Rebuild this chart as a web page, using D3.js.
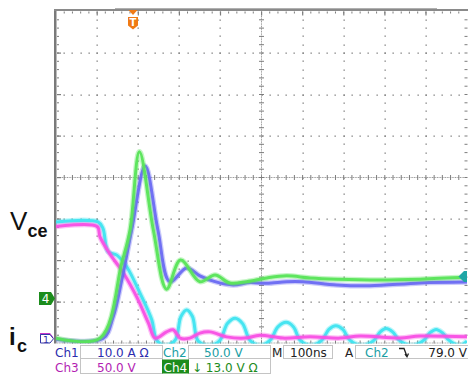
<!DOCTYPE html>
<html><head><meta charset="utf-8">
<script src="https://cdn.jsdelivr.net/npm/d3@7"></script>
<style>
body{margin:0;background:#fff}
svg{display:block}
</style>
</head><body>
<svg id="c" width="468" height="374"></svg>
<script>
// ---- DATA (time in ns, amplitude in screen divisions) ----
const ch2Vce = [[0,-1.07],[102,-1.07],[114,-1.22],[127,-1.79],[148,-1.87],[172,-2.15],[204,-2.78],[233,-3.43],[245,-3.92],
  [265,-4.05],[290,-3.92],[304,-3.35],[318,-3.19],[332,-3.35],[346,-3.94],[375,-4.05],[399,-3.92],[417,-3.52],[436,-3.39],[454,-3.52],[472,-3.92],
  [496,-4.05],[521,-3.92],[540,-3.6],[560,-3.49],[578,-3.6],[594,-3.92],[620,-4.05],[647,-3.92],[664,-3.66],[681,-3.57],[698,-3.66],[715,-3.92],
  [745,-4.05],[774,-3.92],[789,-3.72],[803,-3.64],[819,-3.72],[835,-3.92],[866,-4.05],[895,-3.92],[910,-3.74],[925,-3.66],[940,-3.74],[956,-3.92],
  [983,-4.05],[1000,-3.94]];
const ch3Vce = [[0,-1.18],[100,-1.18],[107,-1.43],[131,-1.84],[164,-2.30],[196,-2.87],[225,-3.51],[241,-3.87],[269,-3.72],[285,-3.67],
  [302,-3.87],[326,-3.87],[350,-3.75],[375,-3.72],[415,-3.84],[460,-3.87],[496,-3.80],[552,-3.87],[618,-3.84],[691,-3.87],[740,-3.82],
  [837,-3.87],[886,-3.82],[1000,-3.84]];
const ch1Ic = [[0,-3.9],[114,-3.88],[139,-3.36],[160,-2.47],[184,-1.27],[217,0.28],[248,-1.27],[277,-2.51],[318,-2.18],[350,-2.37],
  [387,-2.51],[431,-2.59],[472,-2.53],[513,-2.55],[561,-2.51],[601,-2.51],[683,-2.59],[764,-2.61],[886,-2.54],[1000,-2.52]];
const ch4Ic = [[0,-3.87],[107,-3.87],[160,-2.06],[180,-1.27],[203,0.62],[237,-1.27],[269,-2.69],[303,-1.99],[350,-2.51],[387,-2.35],
  [423,-2.54],[464,-2.51],[513,-2.42],[561,-2.37],[618,-2.42],[683,-2.45],[788,-2.47],[886,-2.45],[1000,-2.40]];

const channelNames = ["Ch1","Ch2","Ch3","Ch4"];
const channelScales = ["10.0 A \u03A9","50.0 V","50.0 V","\u2193 13.0 V \u03A9"];
const timebase = "100ns";
const triggerSource = "Ch2";
const triggerLevel = "79.0 V";
const timeDomain = [0,1000];
const divDomain = [-4,4];

// ---- DRAW ----
const svg = d3.select("#c");
const L=56, R=467, T=11.5, B=343.5;
const x = d3.scaleLinear().domain(timeDomain).range([L,R]);
const y = d3.scaleLinear().domain(divDomain).range([B,T]);
const g = svg.append("g");
const dotC = "#7d7d7d";

// graticule dots
const grid = g.append("g");
function dot(px,py,w,h,c){grid.append("rect").attr("x",px).attr("y",py).attr("width",w).attr("height",h).attr("fill",c||dotC);}
for(let i=1;i<10;i++){
  if(i===5) continue;
  for(let k=1;k<40;k++){ dot(Math.round(x(i*100))-0.5, Math.round(y(-4+k/5))-0.5, 1.3, 1.3); }
}
for(let j=-3;j<=3;j++){
  if(j===0) continue;
  for(let k=1;k<50;k++){ dot(Math.round(x(k*20))-0.5, Math.round(y(j))-0.5, 1.3, 1.3); }
}
// center lines with dense minor ticks
for(let k=1;k<250;k++){ dot(x(k*4)-0.5, y(0)-0.5, 1, 1, "#999"); }
for(let k=1;k<50;k++){ dot(x(k*20)-0.5, y(0)-2.5, 1, 5); }
for(let k=1;k<200;k++){ dot(x(500)-0.5, y(-4+k/25)-0.5, 1, 1, "#999"); }
for(let k=1;k<40;k++){ dot(x(500)-2.5, y(-4+k/5)-0.5, 5, 1); }
// bottom edge
for(let k=1;k<250;k++){ dot(x(k*4)-0.5, B-1, 1, 1, "#aaa"); }
for(let k=1;k<50;k++){ dot(x(k*20)-0.5, B-3, 1, 3); }
// right edge ticks
for(let k=1;k<40;k++){ dot(R-2.5, y(-4+k/5)-0.5, 3, 1); }
// left border + ticks
g.append("rect").attr("x",L-2).attr("y",T-2).attr("width",2.5).attr("height",B-T+2).attr("fill","#7a7a7a");
for(let k=1;k<40;k++){ dot(L+1, y(-4+k/5)-0.5, 2, 1); }
for(let j=-3;j<=3;j++){ dot(L+1, y(j)-0.5, 4, 1.2); }
// top border + ticks
g.append("rect").attr("x",L-2).attr("y",T-2.5).attr("width",R-L+4).attr("height",2).attr("fill","#8a8a8a");
g.append("rect").attr("x",115).attr("y",T-3.5).attr("width",322).attr("height",1).attr("fill","#b0b0b0");
for(let k=1;k<50;k++){ dot(x(k*20)-0.5, T, 1, 2); }
for(let i=1;i<10;i++){ dot(x(i*100)-0.5, T, 1.2, 4); }

// traces
svg.append("defs").append("clipPath").attr("id","pc").append("rect").attr("x",L).attr("y",T).attr("width",R-L).attr("height",B-T);
const tg = svg.append("g").attr("clip-path","url(#pc)");
const line = d3.line().x(d=>x(d[0])).y(d=>y(d[1])).curve(d3.curveCatmullRom.alpha(0.5));
const traces = [[ch2Vce,"#3fe4f0"],[ch3Vce,"#f850e4"],[ch1Ic,"#6a6af2"],[ch4Ic,"#58e458"]];
traces.forEach(([data,c])=>{
  tg.append("path").attr("d",line(data)).attr("fill","none").attr("stroke",c).attr("stroke-width",5.5).attr("stroke-opacity",0.35).attr("stroke-linejoin","round");
  tg.append("path").attr("d",line(data)).attr("fill","none").attr("stroke",c).attr("stroke-width",3).attr("stroke-opacity",0.95).attr("stroke-linejoin","round");
});

// trigger marker (top)
svg.append("path").attr("d","M128.5,10 L137.5,10 L133,15 Z").attr("fill","#f07a14");
svg.append("path").attr("d","M128,17 H138 V25.5 L133,29.5 L128,25.5 Z").attr("fill","#f07a14");
svg.append("text").attr("x",133).attr("y",26).attr("text-anchor","middle").attr("font-family","DejaVu Sans").attr("font-weight","bold").attr("font-size",10).attr("fill","#fff").text("T");

// trigger level marker (right)
svg.append("path").attr("d","M458.5,276.5 L464,271 L467,271 L467,282 L464,282 Z").attr("fill","#1fa6a6");

// channel ground markers
svg.append("path").attr("d","M40,333 H50 L53.5,337.5 L50,342 H40 Z").attr("fill","#c838c8");
svg.append("path").attr("d","M40.5,334.5 H50 L53.5,338.8 L50,343 H40.5 Z").attr("fill","#fff").attr("stroke","#3535a8").attr("stroke-width",1);
svg.append("text").attr("x",46).attr("y",342.5).attr("text-anchor","middle").attr("font-family","DejaVu Sans").attr("font-size",9.5).attr("fill","#3535a8").text("1");
svg.append("path").attr("d","M39,292 H51 L55,298.5 L51,305 H39 Z").attr("fill","#1c8c1c");
svg.append("text").attr("x",45.5).attr("y",303.2).attr("text-anchor","middle").attr("font-family","DejaVu Sans").attr("font-size",12).attr("fill","#fff").text("4");

// left labels
const lab = svg.append("g").attr("font-family","Liberation Sans, Arial, sans-serif").attr("fill","#111");
lab.append("text").attr("x",10).attr("y",229.5).attr("font-size",26).text("V");
lab.append("text").attr("x",27.5).attr("y",236.5).attr("font-size",18).attr("font-weight","bold").text("ce");
lab.append("text").attr("x",9).attr("y",345).attr("font-size",24).attr("font-weight","bold").text("i");
lab.append("text").attr("x",17).attr("y",352).attr("font-size",18).attr("font-weight","bold").text("c");

// status bar
const sb = svg.append("g").attr("font-family","DejaVu Sans, sans-serif").attr("font-size",12);
const box = (x0,y0,w,h)=>sb.append("rect").attr("x",x0).attr("y",y0).attr("width",w).attr("height",h).attr("fill","none").attr("stroke","#c4c4c4").attr("stroke-width",1);
box(80.5,345.5,82,13); box(80.5,358.5,82,15);
box(188.5,345.5,82,13); box(188.5,358.5,82,15);
box(283.5,345.5,49,13); box(355.5,345.5,113,13);
const colors = ["#2c2cae","#1a9ea4","#b31eb3","#1c8c1c"];
sb.append("text").attr("x",55).attr("y",357).attr("fill",colors[0]).text(channelNames[0]);
sb.append("text").attr("x",97).attr("y",357).attr("fill",colors[0]).text(channelScales[0]);
sb.append("text").attr("x",163).attr("y",357).attr("fill",colors[1]).text(channelNames[1]);
sb.append("text").attr("x",204).attr("y",357).attr("fill",colors[1]).text(channelScales[1]);
sb.append("text").attr("x",55).attr("y",371.5).attr("fill",colors[2]).text(channelNames[2]);
sb.append("text").attr("x",97).attr("y",371.5).attr("fill",colors[2]).text(channelScales[2]);
sb.append("rect").attr("x",162).attr("y",359.5).attr("width",27).attr("height",14).attr("fill",colors[3]);
sb.append("text").attr("x",163.5).attr("y",371.5).attr("fill","#fff").text(channelNames[3]);
sb.append("text").attr("x",192).attr("y",371.5).attr("fill",colors[3]).text(channelScales[3]);
sb.append("text").attr("x",272).attr("y",357).attr("fill","#222").text("M");
sb.append("text").attr("x",290).attr("y",357).attr("fill","#222").text(timebase);
sb.append("text").attr("x",345).attr("y",357).attr("fill","#222").text("A");
sb.append("text").attr("x",365).attr("y",357).attr("fill",colors[1]).text(triggerSource);
sb.append("path").attr("d","M399,348.5 H404 L407,356.5 M405,354 L407,356.8 L408.5,353.5").attr("fill","none").attr("stroke","#222").attr("stroke-width",1.3);
sb.append("text").attr("x",467).attr("y",357).attr("text-anchor","end").attr("fill","#222").text(triggerLevel);
</script>
</body></html>
